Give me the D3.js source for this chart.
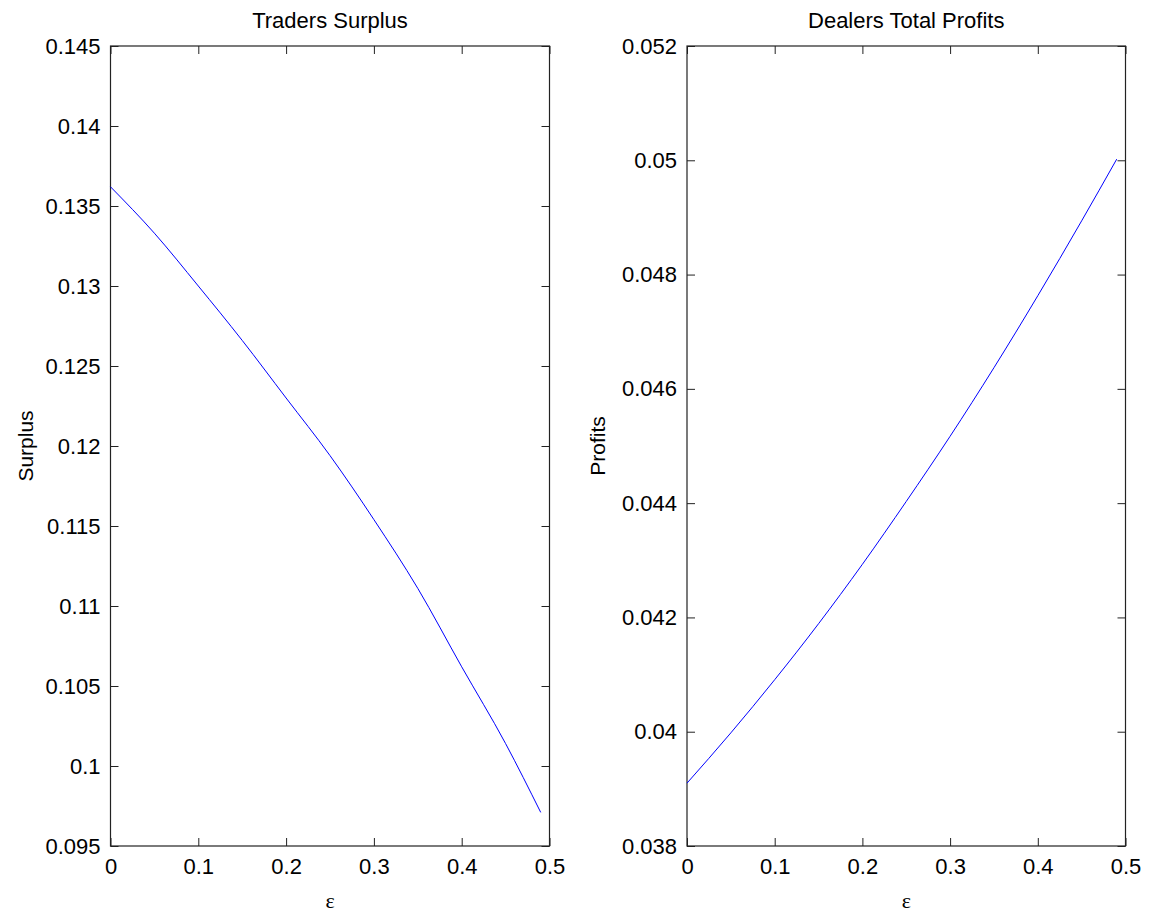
<!DOCTYPE html>
<html>
<head>
<meta charset="utf-8">
<script src="https://d3js.org/d3.v7.min.js"></script>
<style>
  body { margin: 0; background: #fff; }
  svg { display: block; }
  text { font-family: "Liberation Sans", Arial, Helvetica, sans-serif; fill: #000; }
</style>
</head>
<body>
<svg id="chart" width="1149" height="916"></svg>
<script>
// ---- data ----
const epsilon = [0, 0.05, 0.1, 0.15, 0.2, 0.25, 0.3, 0.35, 0.4, 0.45, 0.49];
const surplus = [0.1362, 0.1333, 0.1300, 0.1266, 0.1230, 0.1194, 0.1154, 0.1111, 0.1062, 0.1014, 0.0971];
const profits = [0.03910, 0.03998, 0.04091, 0.04189, 0.04293, 0.04403, 0.04517, 0.04637, 0.04763, 0.04894, 0.05002];
const xTicks = [0, 0.1, 0.2, 0.3, 0.4, 0.5];
const surplusTicks = [0.095, 0.1, 0.105, 0.11, 0.115, 0.12, 0.125, 0.13, 0.135, 0.14, 0.145];
const profitTicks = [0.038, 0.04, 0.042, 0.044, 0.046, 0.048, 0.05, 0.052];

const svg = d3.select("#chart");
const tickLen = 8;
const fontSize = 22;

function panel(opts) {
  const { left, right, top, bottom, yDomain, yTicks, values, title, ylabel, ylabelX } = opts;
  const x = d3.scaleLinear().domain([0, 0.5]).range([left, right]);
  const y = d3.scaleLinear().domain(yDomain).range([bottom, top]);
  const g = svg.append("g");

  const fmt = d => String(+d.toFixed(4));

  const ax = g.append("g").attr("transform", `translate(0,${bottom})`)
    .call(d3.axisBottom(x).tickValues(xTicks).tickSizeInner(-tickLen).tickSizeOuter(0).tickPadding(12).tickFormat(fmt));
  const axT = g.append("g").attr("transform", `translate(0,${top})`)
    .call(d3.axisTop(x).tickValues(xTicks).tickSizeInner(-tickLen).tickSizeOuter(0).tickFormat(""));
  const ay = g.append("g").attr("transform", `translate(${left},0)`)
    .call(d3.axisLeft(y).tickValues(yTicks).tickSizeInner(-tickLen).tickSizeOuter(0).tickPadding(10).tickFormat(fmt));
  const ayR = g.append("g").attr("transform", `translate(${right},0)`)
    .call(d3.axisRight(y).tickValues(yTicks).tickSizeInner(-tickLen).tickSizeOuter(0).tickFormat(""));

  [ax, axT, ay, ayR].forEach(a => {
    a.select(".domain").remove();
    a.selectAll("line").attr("stroke", "#222").attr("stroke-width", 1);
    a.selectAll("text").attr("font-size", fontSize).attr("fill", "#000")
      .style("font-family", '"Liberation Sans", Arial, sans-serif');
  });

  g.append("rect").attr("x", left).attr("y", top)
    .attr("width", right - left).attr("height", bottom - top)
    .attr("fill", "none").attr("stroke", "#222").attr("stroke-width", 1.2);

  const line = d3.line().x((d, i) => x(epsilon[i])).y(d => y(d)).curve(d3.curveMonotoneX);
  g.append("path").datum(values).attr("d", line)
    .attr("fill", "none").attr("stroke", "#0000ff").attr("stroke-width", 1);

  g.append("text").attr("x", (left + right) / 2).attr("y", 28)
    .attr("text-anchor", "middle").attr("font-size", fontSize).text(title);
  g.append("text").attr("x", (left + right) / 2).attr("y", 908)
    .attr("text-anchor", "middle").attr("font-size", 22)
    .style("font-family", '"Liberation Serif", "Times New Roman", serif').text("ε");
  g.append("text")
    .attr("transform", `translate(${ylabelX},${(top + bottom) / 2}) rotate(-90)`)
    .attr("text-anchor", "middle").attr("font-size", 21).text(ylabel);
}

panel({ left: 110.5, right: 549.5, top: 46, bottom: 846, yDomain: [0.095, 0.145], yTicks: surplusTicks,
  values: surplus, title: "Traders Surplus", ylabel: "Surplus", ylabelX: 33 });
panel({ left: 687, right: 1125.5, top: 46, bottom: 846, yDomain: [0.038, 0.052], yTicks: profitTicks,
  values: profits, title: "Dealers Total Profits", ylabel: "Profits", ylabelX: 605 });
</script>
</body>
</html>
